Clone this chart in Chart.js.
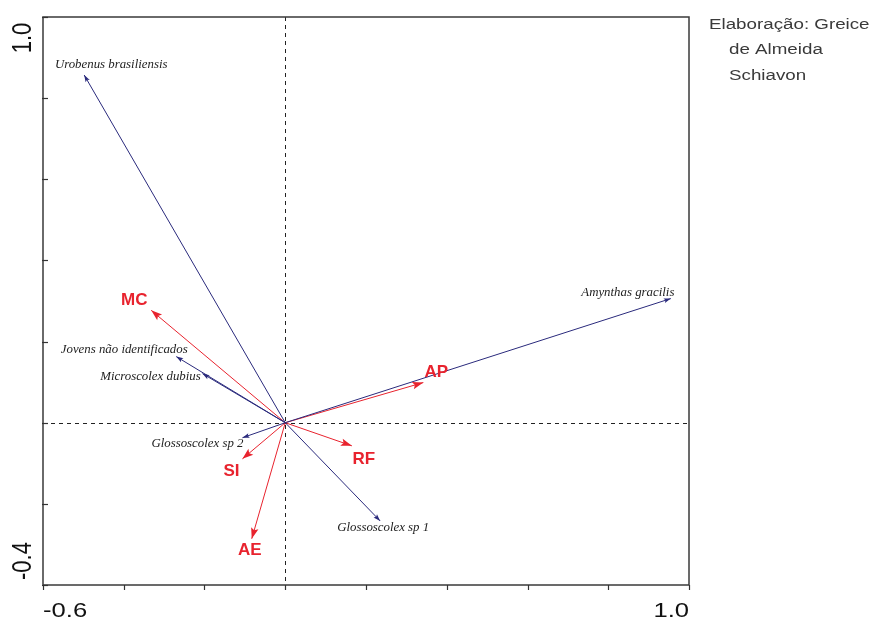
<!DOCTYPE html>
<html><head><meta charset="utf-8">
<script src="https://cdn.jsdelivr.net/npm/chart.js@4.4.0/dist/chart.umd.min.js"></script>
<style>html,body{margin:0;padding:0;background:#fff;}canvas{display:block}</style>
</head><body>
<canvas id="c" width="871" height="619"></canvas>
<script>
// ---- data ----
const speciesNames = ['Urobenus brasiliensis','Amynthas gracilis','Jovens não identificados','Microscolex dubius','Glossoscolex sp 2','Glossoscolex sp 1'];
const speciesX = [-0.498, 0.955, -0.270, -0.205, -0.106, 0.235];
const speciesY = [0.857, 0.306, 0.163, 0.121, -0.037, -0.242];
const envNames = ['MC','SI','AE','RF','AP'];
const envX = [-0.332, -0.106, -0.083, 0.165, 0.342];
const envY = [0.277, -0.089, -0.286, -0.057, 0.099];
const xTickValues = [-0.6,-0.4,-0.2,0,0.2,0.4,0.6,0.8,1.0];
const yTickValues = [-0.4,-0.2,0,0.2,0.4,0.6,0.8,1.0];
const xTickLabels = ['-0.6','1.0'];
const yTickLabels = ['1.0','-0.4'];
const creditLines = ['Elaboração: Greice','de Almeida','Schiavon'];

// ---- layout (pixel offsets of labels relative to arrow tips) ----
const speciesLabelOffset = [[27,-10],[-43,-6],[-52,-7],[-52,3],[-45,6],[3,7]];
const envLabelOffset = [[-17,-10],[-11,12],[-2,12],[12,13],[13,-10]];

const BLUE = '#2a2a7c', RED = '#e8232e';

const datasets = [];
speciesNames.forEach((n,i)=>datasets.push({label:n,data:[{x:0,y:0},{x:speciesX[i],y:speciesY[i]}],
  borderColor:BLUE,borderWidth:1,showLine:true,pointRadius:0,kind:'sp',idx:i}));
envNames.forEach((n,i)=>datasets.push({label:n,data:[{x:0,y:0},{x:envX[i],y:envY[i]}],
  borderColor:RED,borderWidth:1,showLine:true,pointRadius:0,kind:'env',idx:i}));

function stretchText(ctx,text,x,y,sx,align){
  ctx.save();ctx.translate(x,y);ctx.scale(sx,1);ctx.textAlign=align;ctx.fillText(text,0,0);ctx.restore();
}

const biplot = {
  id:'biplot',
  beforeDatasetsDraw(chart){
    const ctx=chart.ctx, xs=chart.scales.x, ys=chart.scales.y, a=chart.chartArea;
    ctx.save();
    ctx.strokeStyle='#222';ctx.lineWidth=1;ctx.setLineDash([4,4]);
    const x0=Math.round(xs.getPixelForValue(0))+0.5, y0=Math.round(ys.getPixelForValue(0))+0.5;
    ctx.beginPath();ctx.moveTo(x0,a.top);ctx.lineTo(x0,a.bottom);ctx.stroke();
    ctx.beginPath();ctx.moveTo(a.left,y0);ctx.lineTo(a.right,y0);ctx.stroke();
    ctx.restore();
  },
  afterDatasetsDraw(chart){
    const ctx=chart.ctx, xs=chart.scales.x, ys=chart.scales.y, a=chart.chartArea;
    ctx.save();
    // arrowheads + labels
    chart.data.datasets.forEach(ds=>{
      const ox=xs.getPixelForValue(0), oy=ys.getPixelForValue(0);
      const tx=xs.getPixelForValue(ds.data[1].x), ty=ys.getPixelForValue(ds.data[1].y);
      const ang=Math.atan2(ty-oy,tx-ox);
      const L = ds.kind==='env'?11:7, W = ds.kind==='env'?3.8:2.4;
      ctx.fillStyle=ds.borderColor;
      ctx.beginPath();
      ctx.moveTo(tx,ty);
      ctx.lineTo(tx-L*Math.cos(ang)+W*Math.sin(ang), ty-L*Math.sin(ang)-W*Math.cos(ang));
      ctx.lineTo(tx-L*0.8*Math.cos(ang), ty-L*0.8*Math.sin(ang));
      ctx.lineTo(tx-L*Math.cos(ang)-W*Math.sin(ang), ty-L*Math.sin(ang)+W*Math.cos(ang));
      ctx.closePath();ctx.fill();
      ctx.textBaseline='middle';
      if(ds.kind==='sp'){
        const off=speciesLabelOffset[ds.idx];
        ctx.fillStyle='#222';
        ctx.font='italic 12px "Liberation Serif", serif';
        stretchText(ctx,ds.label,tx+off[0],ty+off[1],1.07,'center');
      } else {
        const off=envLabelOffset[ds.idx];
        ctx.fillStyle=RED;
        ctx.font='bold 17px "Liberation Sans", Arial, sans-serif';
        stretchText(ctx,ds.label,tx+off[0],ty+off[1],1.0,'center');
      }
    });
    // frame
    ctx.strokeStyle='#3a3a3a';ctx.lineWidth=1.5;
    ctx.strokeRect(a.left,a.top,a.right-a.left,a.bottom-a.top);
    // ticks
    ctx.lineWidth=1.2;ctx.strokeStyle='#333';
    xTickValues.forEach(v=>{const px=Math.round(xs.getPixelForValue(v))+0.5;
      ctx.beginPath();ctx.moveTo(px,a.bottom);ctx.lineTo(px,a.bottom+5);ctx.stroke();});
    yTickValues.forEach(v=>{const py=Math.round(ys.getPixelForValue(v))+0.5;
      ctx.beginPath();ctx.moveTo(a.left-1,py);ctx.lineTo(a.left+5,py);ctx.stroke();});
    // tick labels
    ctx.fillStyle='#111';ctx.font='21px "Liberation Sans", Arial, sans-serif';ctx.textBaseline='alphabetic';
    stretchText(ctx,xTickLabels[0],xs.getPixelForValue(-0.6),617,1.22,'left');
    stretchText(ctx,xTickLabels[1],xs.getPixelForValue(1.0),617,1.22,'right');
    ctx.font='22px "Liberation Sans", Arial, sans-serif';ctx.textBaseline='middle';ctx.textAlign='center';
    [[yTickLabels[0],ys.getPixelForValue(1.0)+21],[yTickLabels[1],ys.getPixelForValue(-0.4)-24]].forEach(([t,py])=>{
      ctx.save();ctx.translate(22,py);ctx.rotate(-Math.PI/2);ctx.scale(1,1.22);ctx.fillText(t,0,1);ctx.restore();
    });
    // credits
    ctx.fillStyle='#3a3a3a';ctx.font='15.5px "Liberation Sans", Arial, sans-serif';ctx.textBaseline='alphabetic';
    stretchText(ctx,creditLines[0],709,29,1.21,'left');
    stretchText(ctx,creditLines[1],729,54,1.21,'left');
    stretchText(ctx,creditLines[2],729,80,1.21,'left');
    ctx.restore();
  }
};

new Chart(document.getElementById('c'),{
  type:'scatter',
  data:{datasets},
  options:{
    responsive:false,animation:false,
    layout:{padding:{left:43,top:17,right:182,bottom:34}},
    plugins:{legend:{display:false},tooltip:{enabled:false}},
    scales:{
      x:{type:'linear',min:-0.6,max:1.0,display:false},
      y:{type:'linear',min:-0.4,max:1.0,display:false}
    }
  },
  plugins:[biplot]
});
</script>
</body></html>
